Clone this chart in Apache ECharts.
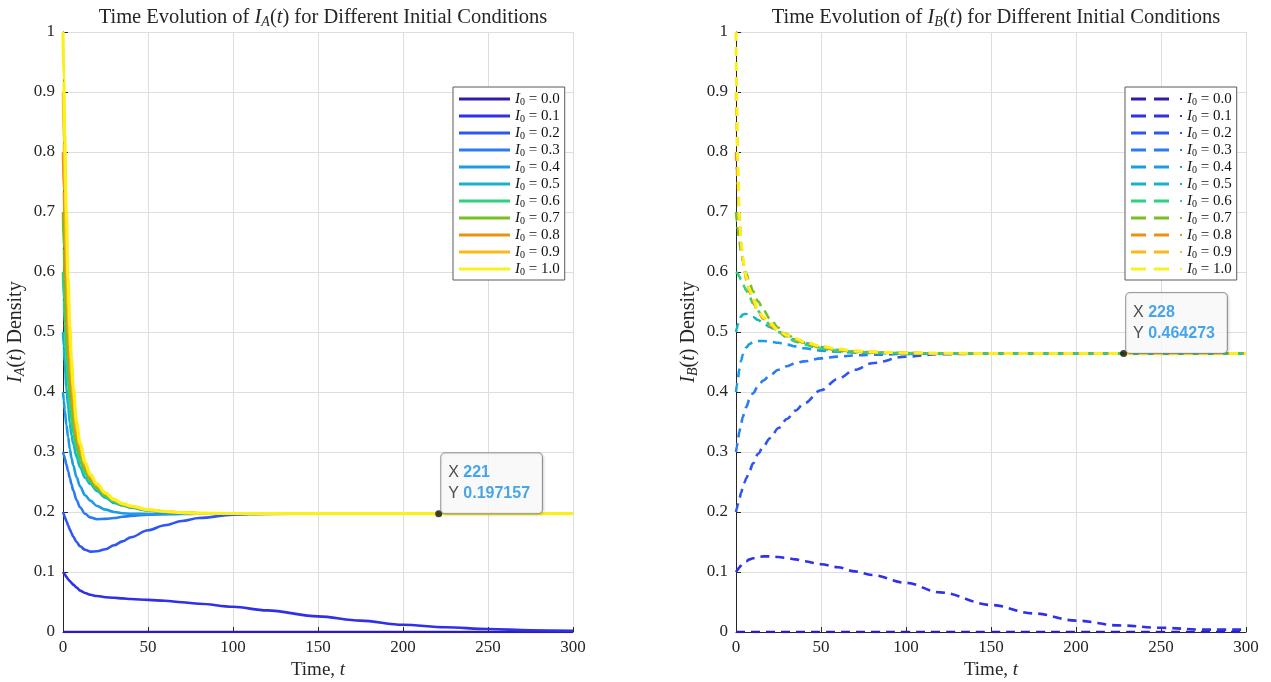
<!DOCTYPE html>
<html>
<head>
<meta charset="utf-8">
<script src="https://cdn.jsdelivr.net/npm/echarts@6/dist/echarts.min.js"></script>
<style>
  html, body { margin: 0; padding: 0; background: #ffffff; }
  #chart { width: 1271px; height: 682px; }
</style>
</head>
<body>
<div id="chart"></div>
<script>
// Sample times shared by every trajectory
const times = [0, 0.5, 1, 2, 3, 4, 5, 6, 8, 10, 13, 16, 20, 25, 30, 35, 40, 50, 60, 70, 80, 100, 120, 150, 175, 200, 225, 250, 275, 300];

// Initial conditions I0
const levels = ['0.0', '0.1', '0.2', '0.3', '0.4', '0.5', '0.6', '0.7', '0.8', '0.9', '1.0'];

// Line colours, one per initial condition
const colors = ['#2e1cae', '#2f30e8', '#2f55f2', '#2b7cf0', '#1a9ce6', '#17b4c9', '#2fd07f', '#78bf22', '#f09010', '#fbb816', '#fbf01c'];

// I_A(t) trajectories
const ia00 = [0,0,0,0,0,0,0,0,0,0, 0,0,0,0,0,0,0,0,0,0, 0,0,0,0,0,0,0,0,0,0];
const ia01 = [0.1,0.098,0.096,0.092,0.088,0.085,0.082,0.079,0.074,0.069, 0.065,0.062,0.060,0.058,0.057,0.056,0.055,0.0535,0.052,0.0495, 0.047,0.042,0.036,0.026,0.019,0.012,0.008,0.005,0.003,0.002];
const ia02 = [0.2,0.196,0.192,0.185,0.178,0.171,0.165,0.159,0.150,0.143, 0.137,0.134,0.1345,0.138,0.1445,0.151,0.158,0.1695,0.178,0.185, 0.190,0.1955,0.1968,0.19714,0.197157,0.197157,0.197157,0.197157,0.197157,0.197157];
const ia03 = [0.3,0.295,0.29,0.279,0.268,0.257,0.246,0.236,0.220,0.208, 0.197,0.191,0.188,0.1885,0.190,0.192,0.1935,0.1955,0.1965,0.197, 0.1971,0.1972,0.19716,0.197157,0.197157,0.197157,0.197157,0.197157,0.197157,0.197157];
const ia04 = [0.4,0.385,0.37,0.345,0.325,0.305,0.29,0.278,0.258,0.243, 0.228,0.219,0.210,0.204,0.200,0.198,0.197,0.1966,0.1967,0.1969, 0.197,0.1971,0.19715,0.197157,0.197157,0.197157,0.197157,0.197157,0.197157,0.197157];
const ia05 = [0.5,0.475,0.45,0.407,0.377,0.348,0.328,0.314,0.292,0.275, 0.257,0.247,0.235,0.224,0.215,0.211,0.207,0.2025,0.2,0.1985, 0.1978,0.1973,0.19718,0.197157,0.197157,0.197157,0.197157,0.197157,0.197157,0.197157];
const ia06 = [0.6,0.555,0.515,0.46,0.415,0.383,0.353,0.332,0.306,0.284, 0.264,0.251,0.238,0.226,0.217,0.2115,0.208,0.203,0.2003,0.1987, 0.1979,0.1974,0.19719,0.197157,0.197157,0.197157,0.197157,0.197157,0.197157,0.197157];
const ia07 = [0.7,0.64,0.59,0.51,0.455,0.41,0.38,0.35,0.315,0.293, 0.270,0.254,0.241,0.228,0.219,0.212,0.209,0.2033,0.2005,0.1988, 0.198,0.1974,0.1972,0.197157,0.197157,0.197157,0.197157,0.197157,0.197157,0.197157];
const ia08 = [0.8,0.735,0.68,0.575,0.495,0.446,0.405,0.374,0.327,0.303, 0.275,0.257,0.243,0.230,0.220,0.213,0.209,0.2035,0.2007,0.199, 0.198,0.1975,0.1972,0.197157,0.197157,0.197157,0.197157,0.197157,0.197157,0.197157];
const ia09 = [0.9,0.815,0.75,0.63,0.54,0.475,0.428,0.393,0.338,0.309, 0.279,0.260,0.245,0.231,0.220,0.2135,0.2095,0.2038,0.2009,0.199, 0.198,0.1975,0.1972,0.197157,0.197157,0.197157,0.197157,0.197157,0.197157,0.197157];
const ia10 = [1.0,0.92,0.83,0.70,0.59,0.51,0.455,0.41,0.35,0.315, 0.283,0.263,0.247,0.232,0.221,0.214,0.210,0.204,0.201,0.199, 0.198,0.1975,0.1972,0.197157,0.197157,0.197157,0.197157,0.197157,0.197157,0.197157];

// I_B(t) trajectories
const ib00 = [0,0,0,0,0,0,0,0,0,0, 0,0,0,0,0,0,0,0,0,0, 0,0,0,0,0,0,0,0,0,0];
const ib01 = [0.1,0.102,0.104,0.108,0.111,0.114,0.116,0.118,0.121,0.123, 0.125,0.126,0.126,0.125,0.123,0.121,0.118,0.113,0.108,0.101, 0.095,0.082,0.066,0.045,0.031,0.019,0.011,0.007,0.004,0.004];
const ib02 = [0.2,0.206,0.212,0.222,0.232,0.241,0.249,0.256,0.269,0.281, 0.297,0.309,0.323,0.340,0.355,0.369,0.381,0.403,0.422,0.437, 0.448,0.459,0.463,0.4641,0.46425,0.464273,0.464273,0.464273,0.464273,0.464273];
const ib03 = [0.3,0.309,0.318,0.334,0.347,0.358,0.367,0.375,0.388,0.398, 0.41,0.419,0.428,0.437,0.443,0.448,0.451,0.456,0.459,0.461, 0.462,0.4635,0.4641,0.46425,0.464273,0.464273,0.464273,0.464273,0.464273,0.464273];
const ib04 = [0.4,0.411,0.421,0.438,0.452,0.462,0.469,0.474,0.480,0.483, 0.485,0.485,0.484,0.482,0.479,0.476,0.473,0.469,0.467,0.4655, 0.465,0.4645,0.4643,0.464273,0.464273,0.464273,0.464273,0.464273,0.464273,0.464273];
const ib05 = [0.5,0.506,0.512,0.52,0.526,0.529,0.53,0.53,0.528,0.525, 0.52,0.515,0.508,0.5,0.493,0.487,0.482,0.475,0.47,0.4675, 0.466,0.4648,0.4644,0.464273,0.464273,0.464273,0.464273,0.464273,0.464273,0.464273];
const ib06 = [0.6,0.599,0.597,0.592,0.587,0.581,0.575,0.569,0.558,0.548, 0.535,0.524,0.512,0.5,0.491,0.484,0.479,0.472,0.468,0.4665, 0.4655,0.4647,0.4644,0.464273,0.464273,0.464273,0.464273,0.464273,0.464273,0.464273];
const ib07 = [0.7,0.685,0.672,0.65,0.633,0.619,0.607,0.598,0.582,0.568, 0.551,0.537,0.522,0.507,0.496,0.488,0.482,0.474,0.4695,0.467, 0.4658,0.4648,0.4644,0.464273,0.464273,0.464273,0.464273,0.464273,0.464273,0.464273];
const ib08 = [0.8,0.77,0.745,0.688,0.645,0.62,0.602,0.587,0.566,0.55, 0.534,0.522,0.511,0.501,0.493,0.487,0.482,0.475,0.4705,0.468, 0.4665,0.465,0.4645,0.464273,0.464273,0.464273,0.464273,0.464273,0.464273,0.464273];
const ib09 = [0.9,0.83,0.77,0.69,0.648,0.623,0.605,0.59,0.569,0.553, 0.536,0.524,0.513,0.502,0.494,0.488,0.483,0.476,0.471,0.4683, 0.4667,0.4651,0.4646,0.464273,0.464273,0.464273,0.464273,0.464273,0.464273,0.464273];
const ib10 = [1.0,0.88,0.79,0.69,0.65,0.625,0.607,0.592,0.571,0.555, 0.537,0.525,0.514,0.503,0.495,0.489,0.484,0.4765,0.4715,0.4685, 0.4668,0.4652,0.4646,0.464273,0.464273,0.464273,0.464273,0.464273,0.464273,0.464273];

// Data tips
const tipA = [221, 0.197157];
const tipB = [228, 0.464273];

// Axis ticks
const xTicks = [0, 50, 100, 150, 200, 250, 300];
const yTicks = [0, 0.1, 0.2, 0.3, 0.4, 0.5, 0.6, 0.7, 0.8, 0.9, 1];

const iaSets = [ia00, ia01, ia02, ia03, ia04, ia05, ia06, ia07, ia08, ia09, ia10];
const ibSets = [ib00, ib01, ib02, ib03, ib04, ib05, ib06, ib07, ib08, ib09, ib10];

const SERIF = "'Liberation Serif', 'Times New Roman', serif";
const SANS = "'Liberation Sans', Arial, sans-serif";
const INK = '#262626';

function mathRich(size) {
  return {
    n: { fontFamily: SERIF, fontSize: size, fontWeight: 'normal', color: INK },
    i: { fontFamily: SERIF, fontSize: size, fontWeight: 'normal', fontStyle: 'italic', color: INK },
    s: { fontFamily: SERIF, fontSize: Math.round(size * 0.68), fontWeight: 'normal', fontStyle: 'italic', color: INK,
         verticalAlign: 'bottom', padding: [Math.round(size * 0.45), 0, 0, 0] }
  };
}

const legendRich = {
  i: { fontFamily: SERIF, fontSize: 15, fontStyle: 'italic', color: '#111', lineHeight: 14 },
  s: { fontFamily: SERIF, fontSize: 10, color: '#111', padding: [6, 0, 0, 0], lineHeight: 14 },
  n: { fontFamily: SERIF, fontSize: 15, color: '#111', lineHeight: 14 }
};

function pairs(vals) {
  return times.map((t, k) => [t, vals[k]]);
}

const series = [];
levels.forEach((lv, k) => {
  series.push({
    name: 'A ' + lv,
    type: 'line',
    xAxisIndex: 0, yAxisIndex: 0,
    data: pairs(iaSets[k]),
    showSymbol: false, symbol: 'none',
    smooth: 0.35, smoothMonotone: 'x',
    color: colors[k],
    lineStyle: { width: k === 10 ? 3.2 : 2.6, color: colors[k] },
    z: 2 + k
  });
});
levels.forEach((lv, k) => {
  series.push({
    name: 'B ' + lv,
    type: 'line',
    xAxisIndex: 1, yAxisIndex: 1,
    data: pairs(ibSets[k]),
    showSymbol: false, symbol: 'none',
    smooth: 0.35, smoothMonotone: 'x',
    color: colors[k],
    lineStyle: { width: k === 10 ? 3.0 : 2.6, color: colors[k], type: [9, 6] },
    z: 2 + k
  });
});

function tipSeries(pt, xi) {
  return {
    name: 'tip' + xi,
    type: 'scatter',
    xAxisIndex: xi, yAxisIndex: xi,
    data: [pt],
    symbolSize: 7,
    itemStyle: { color: '#111' },
    z: 30,
    label: {
      show: true,
      position: [6, -57],
      backgroundColor: '#ffffff',
      borderColor: '#8a8a8a',
      borderWidth: 1,
      borderRadius: 4,
      shadowColor: 'rgba(0,0,0,0.15)',
      shadowBlur: 3,
      shadowOffsetX: 1,
      shadowOffsetY: 1,
      padding: [9, 12, 9, 7],
      formatter: p => '{k|X }{v|' + p.value[0] + '}\n{k|Y }{v|' + p.value[1] + '}',
      rich: {
        k: { fontFamily: SANS, fontSize: 16, color: '#222', lineHeight: 21 },
        v: { fontFamily: SANS, fontSize: 16, fontWeight: 'bold', color: '#1a8fe6', lineHeight: 21 }
      }
    }
  };
}
series.push(tipSeries(tipA, 0));
series.push(tipSeries(tipB, 1));

function xAxisFor(gi) {
  return {
    type: 'value', gridIndex: gi,
    min: xTicks[0], max: xTicks[xTicks.length - 1], interval: xTicks[1] - xTicks[0],
    name: '{n|Time, }{i|t}',
    nameLocation: 'middle', nameGap: 27,
    nameTextStyle: { rich: mathRich(19) },
    axisLine: { show: true, onZero: false, lineStyle: { color: INK, width: 1 } },
    axisTick: { show: true, inside: true, length: 5, lineStyle: { color: INK } },
    axisLabel: { fontFamily: SERIF, fontSize: 17, color: INK, margin: 7 },
    splitLine: { show: true, lineStyle: { color: '#dedede', width: 1 } }
  };
}
function yAxisFor(gi, sub) {
  return {
    type: 'value', gridIndex: gi,
    min: yTicks[0], max: yTicks[yTicks.length - 1], interval: 0.1,
    name: '{i|I}{s|' + sub + '}{n|(}{i|t}{n|) Density}',
    nameLocation: 'middle', nameGap: 36, nameRotate: 90,
    nameTextStyle: { rich: mathRich(20) },
    axisLine: { show: true, onZero: false, lineStyle: { color: INK, width: 1 } },
    axisTick: { show: true, inside: true, length: 5, lineStyle: { color: INK } },
    axisLabel: {
      fontFamily: SERIF, fontSize: 17, color: INK, margin: 8,
      formatter: v => (v === 0 ? '0' : v === 1 ? '1' : v.toFixed(1))
    },
    splitLine: { show: true, lineStyle: { color: '#dedede', width: 1 } }
  };
}

function legendFor(prefix, left, icon) {
  return {
    data: levels.map(lv => prefix + lv),
    orient: 'vertical',
    left: left, top: 87,
    padding: [4, 5, 3, 6],
    itemGap: 1,
    itemWidth: 51, itemHeight: 3,
    icon: icon,
    itemStyle: { borderWidth: 0 },
    backgroundColor: '#ffffff',
    borderColor: '#5a5a5a',
    borderWidth: 1,
    selectedMode: false,
    formatter: name => '{i|I}{s|0}{n| = ' + name.split(' ')[1] + '}',
    textStyle: { rich: legendRich, padding: [0, 0, 0, 0] }
  };
}

const chart = echarts.init(document.getElementById('chart'), null, { renderer: 'canvas' });
chart.setOption({
  animation: false,
  backgroundColor: '#ffffff',
  title: [
    {
      text: '{n|Time Evolution of }{i|I}{s|A}{n|(}{i|t}{n|) for Different Initial Conditions}',
      left: 318, top: 1, textAlign: 'center',
      textStyle: { fontWeight: 'normal', rich: mathRich(20.5) }
    },
    {
      text: '{n|Time Evolution of }{i|I}{s|B}{n|(}{i|t}{n|) for Different Initial Conditions}',
      left: 991, top: 1, textAlign: 'center',
      textStyle: { fontWeight: 'normal', rich: mathRich(20.5) }
    }
  ],
  grid: [
    { left: 63, right: 698, top: 32, bottom: 50, outerBoundsMode: 'none', containLabel: false },
    { left: 736, right: 25, top: 32, bottom: 50, outerBoundsMode: 'none', containLabel: false }
  ],
  xAxis: [xAxisFor(0), xAxisFor(1)],
  yAxis: [yAxisFor(0, 'A'), yAxisFor(1, 'B')],
  legend: [
    legendFor('A ', 453, 'path://M0,0H51V3H0Z'),
    legendFor('B ', 1125, 'path://M0,0H15V3H0Z M23,0H38V3H23Z M49,0.5H51V2.5H49Z')
  ],
  series: series
});
</script>
</body>
</html>
